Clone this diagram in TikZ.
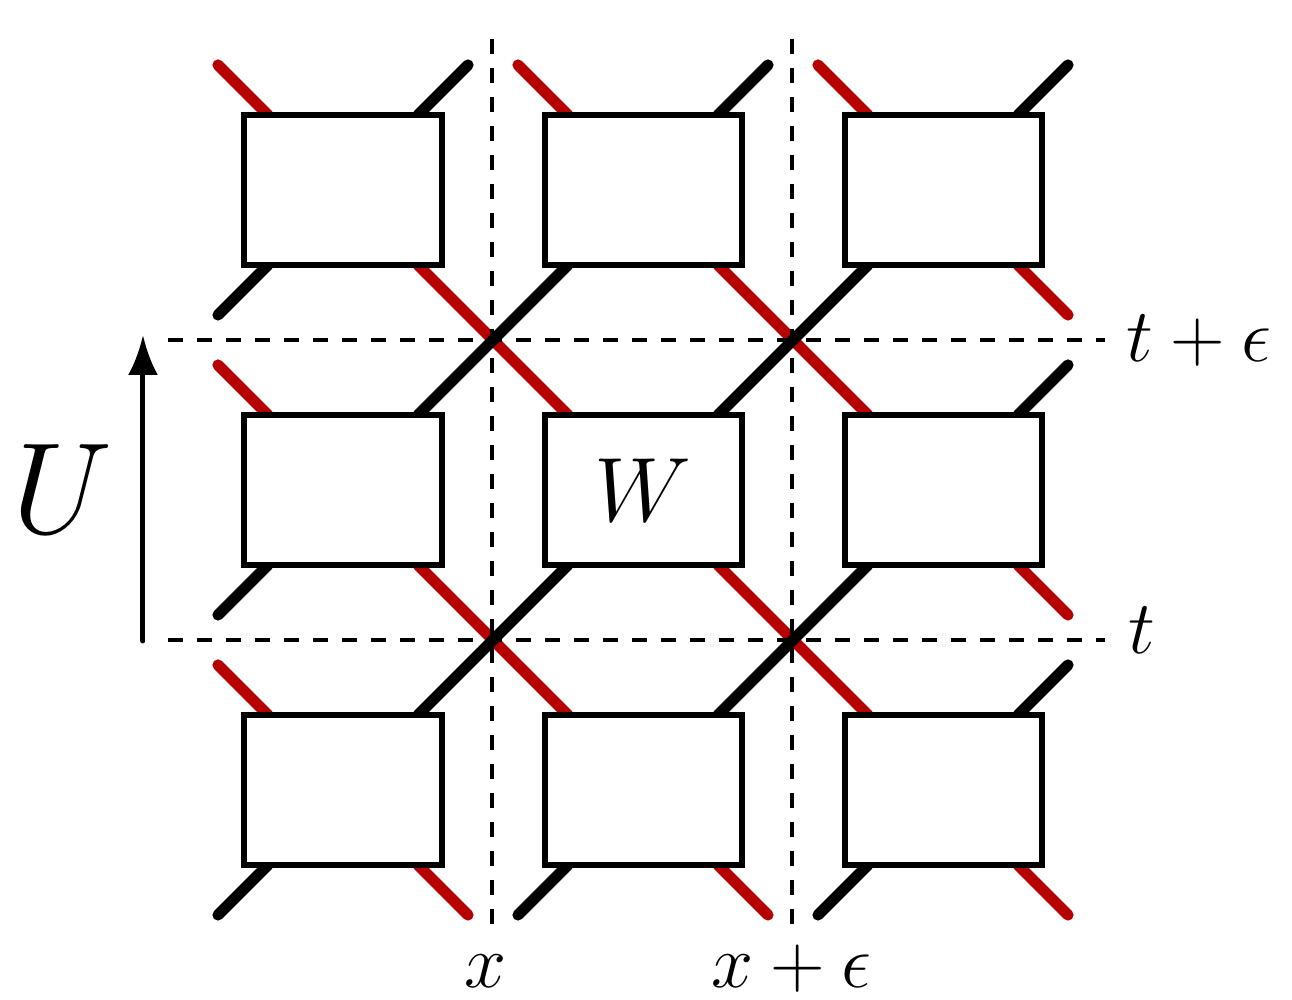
\documentclass[tikz,border=0pt]{standalone}
\usepackage{fix-cm}
\usetikzlibrary{calc,arrows.meta}
\definecolor{legred}{RGB}{182,0,0}
\pgfdeclarelayer{legs}
\pgfsetlayers{legs,main}
\begin{document}
\begin{tikzpicture}[x=1cm,y=1cm,
  tensor/.style={draw=black, fill=white, line width=0.06cm, minimum width=1.97cm,
    minimum height=1.5cm, inner sep=0pt, outer sep=0pt, font=\fontsize{26}{30}\selectfont},
  redleg/.style={draw=legred, line width=0.112cm, line cap=round},
  blackleg/.style={draw=black, line width=0.112cm, line cap=round},
  cut/.style={draw=black, line width=0.04cm, dash pattern=on 0.15cm off 0.14cm},
  lab/.style={inner sep=0pt, font=\fontsize{21.5}{25}\selectfont},
]
\useasboundingbox (0,0) rectangle (12.92,-10);

% tensors
\node[tensor] (b00) at (3.43,-1.90) {};
\node[tensor] (b01) at (6.43,-1.90) {};
\node[tensor] (b02) at (9.43,-1.90) {};
\node[tensor] (b10) at (3.43,-4.90) {};
\node[tensor] (b11) at (6.43,-4.90) {$W$};
\node[tensor] (b12) at (9.43,-4.90) {};
\node[tensor] (b20) at (3.43,-7.90) {};
\node[tensor] (b21) at (6.43,-7.90) {};
\node[tensor] (b22) at (9.43,-7.90) {};

\begin{pgfonlayer}{legs}
% red legs: free top-left
\foreach \b in {b00,b01,b02,b10,b20}
  \draw[redleg] ($(\b.north)+(-0.75,0)$) -- ++(-0.5,0.5);
% red legs: free bottom-right
\foreach \b in {b20,b21,b22,b02,b12}
  \draw[redleg] ($(\b.south)+(0.75,0)$) -- ++(0.5,-0.5);
% red connectors
\foreach \a/\b in {b00/b11,b01/b12,b10/b21,b11/b22}
  \draw[redleg] ($(\a.south)+(0.75,0)$) -- ($(\b.north)+(-0.75,0)$);
% black legs: free top-right
\foreach \b in {b00,b01,b02,b12,b22}
  \draw[blackleg] ($(\b.north)+(0.75,0)$) -- ++(0.5,0.5);
% black legs: free bottom-left
\foreach \b in {b20,b21,b22,b00,b10}
  \draw[blackleg] ($(\b.south)+(-0.75,0)$) -- ++(-0.5,-0.5);
% black connectors
\foreach \a/\b in {b01/b10,b02/b11,b11/b20,b12/b21}
  \draw[blackleg] ($(\a.south)+(-0.75,0)$) -- ($(\b.north)+(0.75,0)$);

% cuts
\coordinate (vxt) at (4.92,-0.39);
\coordinate (vxb) at (4.92,-9.28);
\coordinate (vyt) at (7.92,-0.39);
\coordinate (vyb) at (7.92,-9.28);
\coordinate (hal) at (1.68,-3.40);
\coordinate (har) at (11.05,-3.40);
\coordinate (hbl) at (1.68,-6.40);
\coordinate (hbr) at (11.05,-6.40);
\draw[cut] (vxt) -- (vxb);
\draw[cut] (vyt) -- (vyb);
\draw[cut] (hal) -- (har);
\draw[cut] (hbl) -- (hbr);
\end{pgfonlayer}

% labels
\node[lab, anchor=base west] (lte) at (11.26,-3.62) {$t+\epsilon$};
\node[lab, anchor=base west] (lt) at (11.28,-6.54) {$t$};
\node[lab, anchor=base] (lx) at (4.86,-9.88) {$x$};
\node[lab, anchor=base] (lxe) at (7.915,-9.88) {$x+\epsilon$};

% arrow U
\coordinate (ua) at (1.43,-6.41);
\coordinate (ub) at (1.43,-3.35);
\draw[line width=0.05cm, line cap=round, -{Latex[length=0.40cm,width=0.30cm]}] (ua) -- (ub);
\node[inner sep=0pt, font=\fontsize{37}{40}\selectfont] (lu) at (0.63,-4.89) {$U$};
\end{tikzpicture}
\end{document}
